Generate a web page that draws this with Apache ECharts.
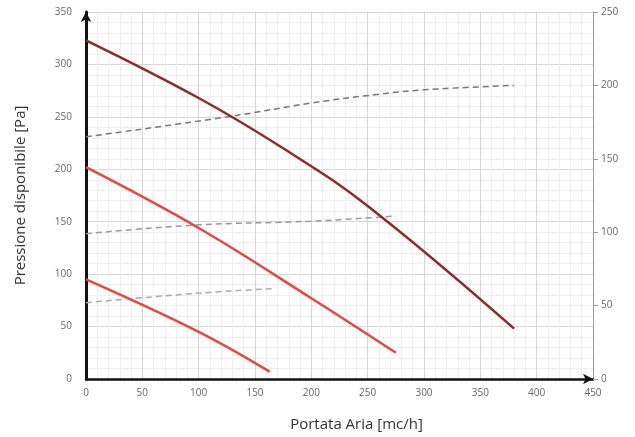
<!DOCTYPE html>
<html>
<head>
<meta charset="utf-8">
<script src="https://cdn.jsdelivr.net/npm/echarts@6/dist/echarts.min.js"></script>
<style>html,body{margin:0;padding:0;background:#fff}#c{width:635px;height:437px}</style>
</head>
<body>
<div id="c"></div>
<script>
// Pressure curves (left axis, Pa) : [portata, pressione]
const curveHigh = [[0,323],[100,268],[175,220],[250,165],[380,48]];
const curveMid  = [[0,202],[100,144],[200,77],[275,25]];
const curveLow  = [[0,95],[100,45],[163,7]];
// Dashed curves (right axis)
const dashHigh = [[0,165],[125,178.5],[200,188],[260,194],[300,197],[380,200]];
const dashMid  = [[0,99],[100,105],[200,107.5],[275,111]];
const dashLow  = [[0,52],[100,58.5],[165,61.5]];

const xName = 'Portata Aria [mc/h]';
const yName = 'Pressione disponibile [Pa]';

const chart = echarts.init(document.getElementById('c'));
const font = 'Open Sans, sans-serif';
chart.setOption({
  animation: false,
  grid: {left: 86, right: 42, top: 12, bottom: 58},
  xAxis: {
    type: 'value', min: 0, max: 450, interval: 50,
    name: xName, nameLocation: 'middle', nameGap: 38,
    nameTextStyle: {fontFamily: font, fontSize: 15, color: '#333', padding: [0, 0, 0, 34]},
    axisLine: {show: true, lineStyle: {color: '#111', width: 2.5}, symbol: ['none', 'arrow'], symbolSize: [8, 10]},
    axisTick: {show: false},
    axisLabel: {color: '#666', fontSize: 10, fontFamily: font, margin: 9},
    splitLine: {show: true, lineStyle: {color: '#d6d6d6', width: 1}},
    minorTick: {show: false, splitNumber: 5},
    minorSplitLine: {show: true, lineStyle: {color: '#efefef', width: 1}}
  },
  yAxis: [{
    type: 'value', min: 0, max: 350, interval: 50,
    name: yName, nameLocation: 'middle', nameGap: 58, nameRotate: 90,
    nameTextStyle: {fontFamily: font, fontSize: 15, color: '#333'},
    axisLine: {show: true, lineStyle: {color: '#111', width: 3}, symbol: ['none', 'arrow'], symbolSize: [8, 10]},
    axisTick: {show: false},
    axisLabel: {color: '#666', fontSize: 10, fontFamily: font, margin: 14},
    splitLine: {show: true, lineStyle: {color: '#d6d6d6', width: 1}},
    minorTick: {show: false, splitNumber: 5},
    minorSplitLine: {show: true, lineStyle: {color: '#efefef', width: 1}}
  }, {
    type: 'value', min: 0, max: 250, interval: 50, position: 'right',
    axisLine: {show: true, lineStyle: {color: '#999', width: 1}},
    axisTick: {show: true, inside: false, length: 5, lineStyle: {color: '#999'}},
    axisLabel: {color: '#666', fontSize: 10, fontFamily: font, margin: 8},
    splitLine: {show: false}
  }],
  series: [
    {type: 'line', data: dashHigh, yAxisIndex: 1, smooth: 0.4, symbol: 'none', lineStyle: {color: '#777', width: 1.5, type: [6, 4]}},
    {type: 'line', data: dashMid, yAxisIndex: 1, smooth: 0.4, symbol: 'none', lineStyle: {color: '#999', width: 1.5, type: [6, 4]}},
    {type: 'line', data: dashLow, yAxisIndex: 1, smooth: 0.4, symbol: 'none', lineStyle: {color: '#aaa', width: 1.5, type: [6, 4]}},
    {type: 'line', data: curveHigh, smooth: 0.4, symbol: 'none', lineStyle: {color: '#8e2a2a', width: 2.5}},
    {type: 'line', data: curveMid, smooth: 0.4, symbol: 'none', lineStyle: {color: '#e8463e', width: 2.5}},
    {type: 'line', data: curveLow, smooth: 0.4, symbol: 'none', lineStyle: {color: '#e8463e', width: 2.5}}
  ]
});
</script>
</body>
</html>
